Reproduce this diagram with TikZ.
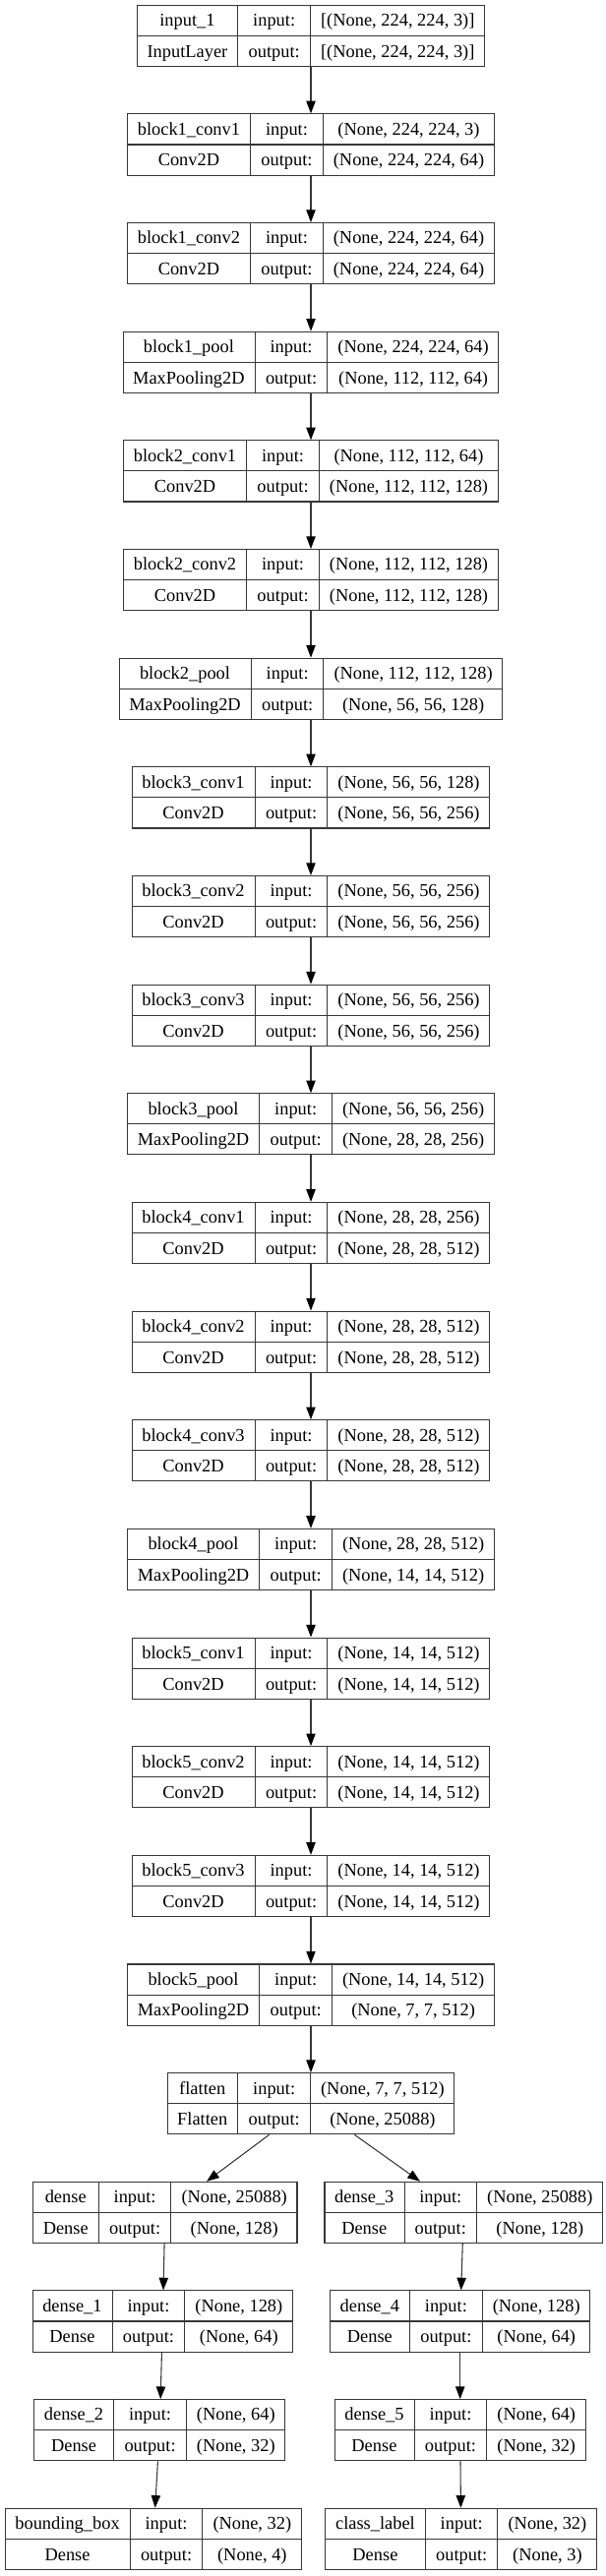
\documentclass[tikz,border=0pt]{standalone}
\usepackage{fontspec}
\setmainfont{Liberation Serif}
\usepackage{colortbl}
\usetikzlibrary{arrows.meta}
\definecolor{linegray}{RGB}{55,55,55}
\setlength{\tabcolsep}{7.6pt}
\setlength{\arrayrulewidth}{0.8pt}
\arrayrulecolor{linegray}
\newcommand{\layer}[4]{\begin{tabular}{c|c|c}#1 & input: & #3\\\hline #2 & output: & #4\end{tabular}}
\tikzset{
  layerbox/.style={draw=linegray,line width=0.8pt,inner sep=0pt,font=\fontsize{13.8}{22.9}\selectfont},
  flow/.style={draw=linegray,line width=0.8pt,-{Triangle[length=9.5pt,width=7pt,color=black]}}
}

\begin{document}
\begin{tikzpicture}[x=0.75pt,y=-0.75pt]
\useasboundingbox (0,0) rectangle (615,2619);
% Input
\node[layerbox] (input1) at (316,36.35) {\layer{input\_1}{InputLayer}{[(None, 224, 224, 3)]}{[(None, 224, 224, 3)]}};
% Block 1
\node[layerbox] (block1conv1) at (316,147.0) {\layer{block1\_conv1}{Conv2D}{(None, 224, 224, 3)}{(None, 224, 224, 64)}};
\node[layerbox] (block1conv2) at (316,257.65) {\layer{block1\_conv2}{Conv2D}{(None, 224, 224, 64)}{(None, 224, 224, 64)}};
\node[layerbox] (block1pool) at (316,368.3) {\layer{block1\_pool}{MaxPooling2D}{(None, 224, 224, 64)}{(None, 112, 112, 64)}};
% Block 2
\node[layerbox] (block2conv1) at (316,478.95) {\layer{block2\_conv1}{Conv2D}{(None, 112, 112, 64)}{(None, 112, 112, 128)}};
\node[layerbox] (block2conv2) at (316,589.6) {\layer{block2\_conv2}{Conv2D}{(None, 112, 112, 128)}{(None, 112, 112, 128)}};
\node[layerbox] (block2pool) at (316,700.25) {\layer{block2\_pool}{MaxPooling2D}{(None, 112, 112, 128)}{(None, 56, 56, 128)}};
% Block 3
\node[layerbox] (block3conv1) at (316,810.9) {\layer{block3\_conv1}{Conv2D}{(None, 56, 56, 128)}{(None, 56, 56, 256)}};
\node[layerbox] (block3conv2) at (316,921.55) {\layer{block3\_conv2}{Conv2D}{(None, 56, 56, 256)}{(None, 56, 56, 256)}};
\node[layerbox] (block3conv3) at (316,1032.2) {\layer{block3\_conv3}{Conv2D}{(None, 56, 56, 256)}{(None, 56, 56, 256)}};
\node[layerbox] (block3pool) at (316,1142.85) {\layer{block3\_pool}{MaxPooling2D}{(None, 56, 56, 256)}{(None, 28, 28, 256)}};
% Block 4
\node[layerbox] (block4conv1) at (316,1253.5) {\layer{block4\_conv1}{Conv2D}{(None, 28, 28, 256)}{(None, 28, 28, 512)}};
\node[layerbox] (block4conv2) at (316,1364.15) {\layer{block4\_conv2}{Conv2D}{(None, 28, 28, 512)}{(None, 28, 28, 512)}};
\node[layerbox] (block4conv3) at (316,1474.8) {\layer{block4\_conv3}{Conv2D}{(None, 28, 28, 512)}{(None, 28, 28, 512)}};
\node[layerbox] (block4pool) at (316,1585.45) {\layer{block4\_pool}{MaxPooling2D}{(None, 28, 28, 512)}{(None, 14, 14, 512)}};
% Block 5
\node[layerbox] (block5conv1) at (316,1696.1) {\layer{block5\_conv1}{Conv2D}{(None, 14, 14, 512)}{(None, 14, 14, 512)}};
\node[layerbox] (block5conv2) at (316,1806.75) {\layer{block5\_conv2}{Conv2D}{(None, 14, 14, 512)}{(None, 14, 14, 512)}};
\node[layerbox] (block5conv3) at (316,1917.4) {\layer{block5\_conv3}{Conv2D}{(None, 14, 14, 512)}{(None, 14, 14, 512)}};
\node[layerbox] (block5pool) at (316,2028.05) {\layer{block5\_pool}{MaxPooling2D}{(None, 14, 14, 512)}{(None, 7, 7, 512)}};
\node[layerbox] (flatten) at (316,2138.7) {\layer{flatten}{Flatten}{(None, 7, 7, 512)}{(None, 25088)}};
% Box head
\node[layerbox] (dense) at (167.8,2249.35) {\layer{dense}{Dense}{(None, 25088)}{(None, 128)}};
\node[layerbox] (dense1) at (165.3,2360.0) {\layer{dense\_1}{Dense}{(None, 128)}{(None, 64)}};
\node[layerbox] (dense2) at (162.3,2470.65) {\layer{dense\_2}{Dense}{(None, 64)}{(None, 32)}};
\node[layerbox] (bbox) at (155.8,2581.3) {\layer{bounding\_box}{Dense}{(None, 32)}{(None, 4)}};
% Class head
\node[layerbox] (dense3) at (471.3,2249.35) {\layer{dense\_3}{Dense}{(None, 25088)}{(None, 128)}};
\node[layerbox] (dense4) at (467.7,2360.0) {\layer{dense\_4}{Dense}{(None, 128)}{(None, 64)}};
\node[layerbox] (dense5) at (467.7,2470.65) {\layer{dense\_5}{Dense}{(None, 64)}{(None, 32)}};
\node[layerbox] (classlabel) at (468.7,2581.3) {\layer{class\_label}{Dense}{(None, 32)}{(None, 3)}};
% Arrows
\draw[flow] (input1) -- (block1conv1);
\draw[flow] (block1conv1) -- (block1conv2);
\draw[flow] (block1conv2) -- (block1pool);
\draw[flow] (block1pool) -- (block2conv1);
\draw[flow] (block2conv1) -- (block2conv2);
\draw[flow] (block2conv2) -- (block2pool);
\draw[flow] (block2pool) -- (block3conv1);
\draw[flow] (block3conv1) -- (block3conv2);
\draw[flow] (block3conv2) -- (block3conv3);
\draw[flow] (block3conv3) -- (block3pool);
\draw[flow] (block3pool) -- (block4conv1);
\draw[flow] (block4conv1) -- (block4conv2);
\draw[flow] (block4conv2) -- (block4conv3);
\draw[flow] (block4conv3) -- (block4pool);
\draw[flow] (block4pool) -- (block5conv1);
\draw[flow] (block5conv1) -- (block5conv2);
\draw[flow] (block5conv2) -- (block5conv3);
\draw[flow] (block5conv3) -- (block5pool);
\draw[flow] (block5pool) -- (flatten);
\draw[flow] (flatten) -- (dense); % split left
\draw[flow] (flatten) -- (dense3); % split right
\draw[flow] (dense) -- (dense1);
\draw[flow] (dense1) -- (dense2);
\draw[flow] (dense2) -- (bbox);
\draw[flow] (dense3) -- (dense4);
\draw[flow] (dense4) -- (dense5);
\draw[flow] (dense5) -- (classlabel);
\end{tikzpicture}
\end{document}
